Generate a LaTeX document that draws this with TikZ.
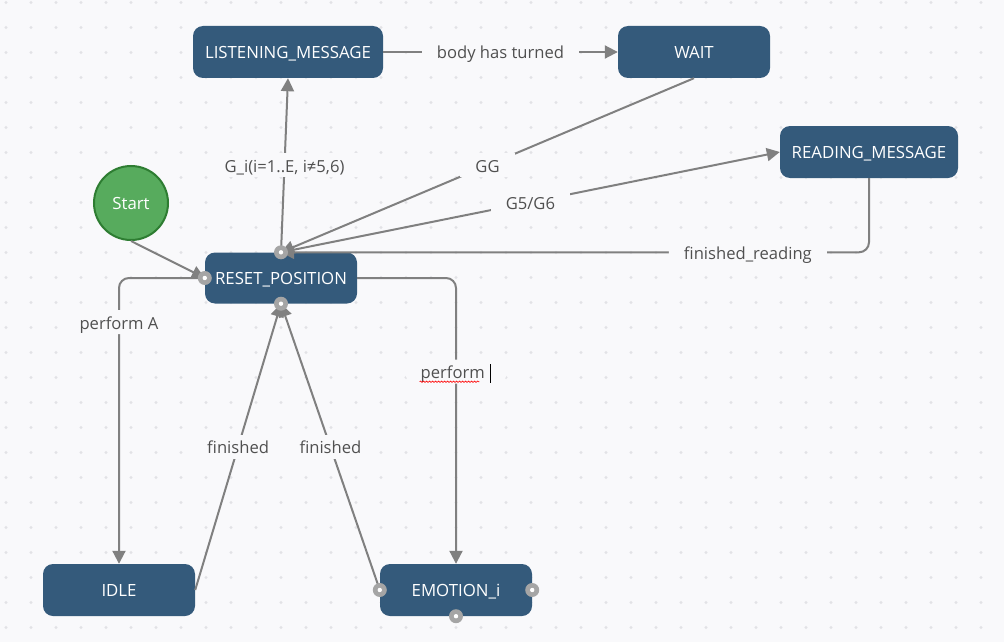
\documentclass[tikz,border=0pt]{standalone}
\usepackage{fontspec}
\setmainfont{Open Sans}
\usetikzlibrary{arrows.meta,decorations.pathmorphing}
\definecolor{StateBlue}{RGB}{52,90,123}
\definecolor{StartGreen}{RGB}{87,171,93}
\definecolor{StartBorder}{RGB}{46,125,50}
\definecolor{EdgeGray}{RGB}{128,128,128}
\definecolor{LabelGray}{RGB}{80,80,80}
\definecolor{PaperBg}{RGB}{249,249,251}
\definecolor{GridDot}{RGB}{226,226,230}
\definecolor{PortGray}{RGB}{165,165,165}

\begin{document}
\begin{tikzpicture}[x=1pt,y=-1pt,
  state/.style={fill=StateBlue,text=white,rounded corners=10pt,minimum width=#1,minimum height=52pt,inner sep=0pt,text height=13.6pt,text depth=0pt,font=\fontsize{16.8}{19}\selectfont},
  trans/.style={draw=EdgeGray,line width=2pt,-{Triangle[length=13pt,width=13pt]}},
  lbl/.style={fill=PaperBg,text=LabelGray,inner xsep=15pt,inner ysep=5pt,text height=14pt,text depth=0pt,font=\fontsize{16.6}{19}\selectfont},
  port/.style={fill=PortGray}]
\useasboundingbox (0,0) rectangle (1004,642);
\fill[PaperBg] (0,0) rectangle (1004,642);
\foreach \i in {0,...,40}
  \foreach \j in {0,...,25}
    \fill[GridDot] (6+25*\i,2.5+25*\j) circle (1.6pt);

\node[state=190pt] (listen) at (288,52) {LISTENING\_MESSAGE};
\node[state=152pt] (wait) at (694,52) {WAIT};
\node[state=178pt] (read) at (869,152) {READING\_MESSAGE};
\node[circle,fill=StartGreen,draw=StartBorder,line width=2pt,minimum size=74pt,inner sep=0pt,text height=13.6pt,text depth=0pt,text=white,font=\fontsize{16.8}{19}\selectfont] (start) at (131,203) {Start};
\node[state=152pt,minimum height=51pt] (reset) at (281,278) {RESET\_POSITION};
\node[state=152pt] (idle) at (119,590) {IDLE};
\node[state=152pt] (emo) at (456,590) {EMOTION\_i};

\draw[trans] (listen) -- node[lbl]{body has turned} (wait);
\draw[trans] (reset.north) -- node[lbl]{G\_i(i=1..E, i≠5,6)} (listen.south);
\draw[trans] (wait.south) -- node[lbl]{GG} (reset.north);
\draw[trans] (reset.north) -- node[lbl]{G5/G6} (read.west);
\draw[trans,rounded corners=10pt] (read.south) |- node[lbl,pos=0.603]{finished\_reading} (reset.north);
\draw[trans] (start.south) -- (reset.west);
\draw[trans,rounded corners=10pt] (reset.west) -| node[lbl,pos=0.577]{perform A} (idle.north);
\draw[trans] (idle.east) -- node[lbl]{finished} (reset.south);
\draw[trans] (emo.west) -- node[lbl]{finished} (reset.south);
\draw[trans,rounded corners=10pt] (reset.east) -| node[lbl,pos=0.664] (pf) {perform\hspace{5pt}\textcolor{black}{\rule[-4pt]{1.6pt}{19pt}}} (emo.north);
\draw[red,line width=0.6pt,decorate,decoration={snake,amplitude=0.7pt,segment length=3pt}]
  ([xshift=15pt,yshift=-3pt]pf.base west) -- ([xshift=-28pt,yshift=-3pt]pf.base east);

% ports
\foreach \p in {reset.west,reset.north,reset.south,emo.west,emo.east,emo.south} {
  \fill[port] (\p) circle (7pt);
  \fill[white] (\p) circle (2.2pt);
}
\end{tikzpicture}
\end{document}
